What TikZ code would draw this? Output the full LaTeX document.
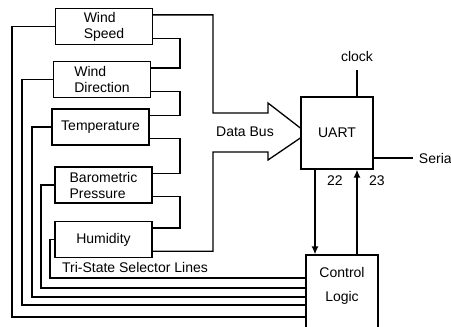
\documentclass[tikz,border=0pt]{standalone}
\usepackage{fontspec}
\setmainfont{Liberation Sans}
\usetikzlibrary{arrows.meta,positioning}

\begin{document}
\begin{tikzpicture}[x=1pt, y=-1pt, line width=1.3pt,
    every node/.style={font=\fontsize{14}{16}\selectfont},
    sensor/.style={draw, minimum width=97pt, minimum height=36pt, align=left, inner sep=0pt},
    block/.style={draw, minimum width=72pt, minimum height=72pt},
    tip/.style={-{Latex[length=8pt,width=7pt]}}]
      \path[use as bounding box, clip] (0,0) rectangle (451,327);

      \node[sensor] (ws) at (104,26.5) {Wind\\Speed};
      \node[sensor] (wd) at (102,79.5) {Wind\\Direction};
      \node[sensor] (temp) at (100.5,127) {Temperature};
      \node[sensor] (bp) at (103.5,185) {Barometric\\Pressure};
      \node[sensor] (hum) at (103.5,239.5) {Humidity};

      \node[block] (uart) at (337,133) {UART};
      \node[block, minimum height=80pt] (ctl) at (342,295) {};
      \node[below=9pt of ctl.north, align=center] (ctltext) {Control\\[8pt]Logic};

      \coordinate (bus) at (213,0);
      \coordinate (chain) at (180,0);
      \foreach \b in {ws,wd,temp,bp,hum} {
        \coordinate (\b-in) at ([yshift=-7pt]\b.north east);
        \coordinate (\b-out) at ([yshift=7pt]\b.south east);
      }
      \foreach \a/\b in {ws/wd,wd/temp,temp/bp,bp/hum}
        \draw (\a-out) -- (\a-out -| chain) |- (\b-in);

      \coordinate (busT) at (268,113);
      \coordinate (busB) at (268,152);
      \draw (ws-in) -- (ws-in -| bus) |- (busT) -- ++(0,-10) -- ([yshift=5pt]uart.west);
      \draw (hum-out) -- (hum-out -| bus) |- (busB) -- ++(0,8) -- ([yshift=-5pt]uart.west);
      \node (dbus) at (245,132) {Data Bus};

      \coordinate (clk) at (357,70);
      \draw (uart.north -| clk) -- (clk);
      \node[above=4pt of clk] (clock) {clock};

      \coordinate (ser) at (413,158);
      \draw (uart.east |- ser) -- (ser);
      \node[right=2pt of ser] (serial) {Serial};

      \coordinate (p22) at ([xshift=-22pt]uart.south);
      \coordinate (p23) at ([xshift=20pt]uart.south);
      \draw[tip] (p22) -- (p22 |- ctl.north);
      \draw[tip] (p23 |- ctl.north) -- (p23);
      \node (n22) at (335,181) {22};
      \node (n23) at (377,181) {23};

      \foreach \b/\x/\y [count=\i] in {ws/12/317,wd/22/305,temp/32/297,bp/41/288,hum/50/278} {
        \coordinate (sel\i) at (\x,\y);
        \draw (\b.west) -| (sel\i) -- (sel\i -| ctl.west);
      }
      \node (tsl) at (135,267) {Tri-State Selector Lines};
    \end{tikzpicture}
\end{document}
